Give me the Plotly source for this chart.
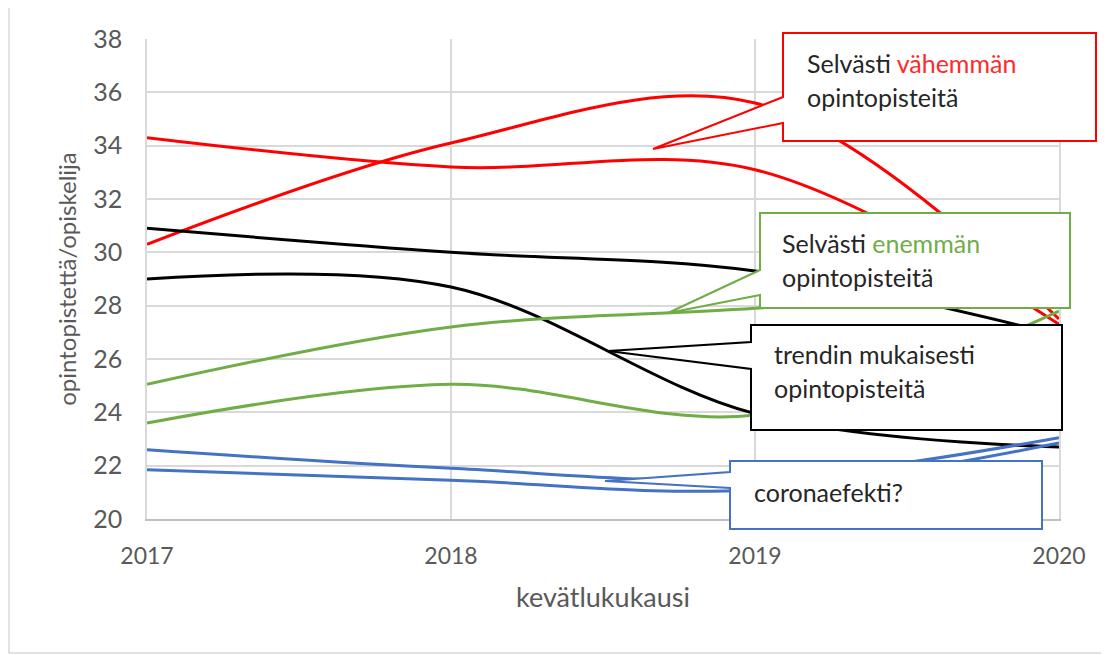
import plotly.graph_objects as go

years = [2017, 2018, 2019, 2020]
red_a = [34.3, 33.2, 33.1, 27.3]
red_b = [30.3, 34.1, 35.6, 27.5]
black_a = [30.9, 30.0, 29.3, 26.9]
black_b = [29.0, 28.7, 23.95, 22.7]
green_a = [25.05, 27.2, 27.9, 28.8]
green_b = [23.6, 25.05, 23.9, 27.8]
blue_a = [22.6, 21.9, 21.5, 23.05]
blue_b = [21.85, 21.45, 21.1, 22.85]

series = [
    (red_a, "#FF0000"), (red_b, "#FF0000"),
    (black_a, "#000000"), (black_b, "#000000"),
    (green_a, "#70AD47"), (green_b, "#70AD47"),
    (blue_a, "#4472C4"), (blue_b, "#4472C4"),
]

y_ticks = list(range(20, 40, 2))
x_title = "kevätlukukausi"
y_title = "opintopistettä/opiskelija"

FONT = "Lato"
OFF = 8  # page body margin
W, H = 1109 - OFF, 655 - OFF
# plot area in page pixels
PL, PR, PT, PB = 147, 1059, 39, 519

fig = go.Figure()
for vals, col in series:
    fig.add_trace(go.Scatter(x=years, y=vals, mode="lines",
                             line=dict(color=col, width=3, shape="spline", smoothing=1.0),
                             showlegend=False, hoverinfo="skip"))

def px(x):
    return (x - PL) / (PR - PL)

def py(y):
    return (PB - y) / (PB - PT)

def callout(x0, y0, x1, y1, b0, b1, tip, color):
    pts = [(x0, y0), (x1, y0), (x1, y1), (x0, y1), (x0, b1), tip, (x0, b0)]
    path = "M " + " L ".join(f"{px(a):.5f},{py(b):.5f}" for a, b in pts) + " Z"
    fig.add_shape(type="path", path=path, xref="paper", yref="paper",
                  line=dict(color=color, width=2), fillcolor="white", layer="above")

callout(783, 33, 1096, 141, 97, 123, (653, 149), "#FF0000")
callout(760, 213, 1070, 308, 270, 295, (668, 313), "#70AD47")
callout(751, 325, 1062, 430, 342, 369, (608, 351), "#000000")
callout(730, 461, 1042, 529, 472, 488, (605, 481), "#4472C4")

TXT = "#262626"
def label(x, y, text):
    fig.add_annotation(x=px(x), y=py(y), xref="paper", yref="paper", text=text,
                       showarrow=False, xanchor="left", yanchor="middle", align="left",
                       font=dict(family=FONT, size=25, color=TXT))

label(805, 63, "Selvästi <span style='color:#FF2A2A'>vähemmän</span>")
label(805, 97, "opintopisteitä")
label(780, 243, "Selvästi <span style='color:#70AD47'>enemmän</span>")
label(780, 277, "opintopisteitä")
label(772, 354, "trendin mukaisesti")
label(772, 388, "opintopisteitä")
label(752, 492, "coronaefekti?")

# outer chart border (left and bottom visible in the window)
fig.add_shape(type="line", xref="paper", yref="paper",
              x0=px(9), x1=px(9), y0=py(653), y1=py(OFF),
              line=dict(color="#D9D9D9", width=1.5), layer="below")
fig.add_shape(type="line", xref="paper", yref="paper",
              x0=px(9), x1=px(1115), y0=py(653), y1=py(653),
              line=dict(color="#D9D9D9", width=1.5), layer="below")

fig.update_layout(
    width=W, height=H,
    margin=dict(l=PL - OFF, r=W - (PR - OFF), t=PT - OFF, b=H - (PB - OFF)),
    paper_bgcolor="white", plot_bgcolor="white",
    font=dict(family=FONT, color="#595959"),
    xaxis=dict(range=[2017, 2020], tickvals=years, ticktext=[str(y) for y in years],
               showgrid=True, gridcolor="#D9D9D9", gridwidth=1.5, zeroline=False,
               showline=True, linecolor="#BFBFBF", linewidth=1.5,
               tickfont=dict(size=23, color="#595959"), ticks="", ticklabelstandoff=16,
               title=dict(text=x_title, font=dict(size=27, color="#595959"), standoff=20)),
    yaxis=dict(range=[20, 38], tickvals=y_ticks,
               showgrid=True, gridcolor="#D9D9D9", gridwidth=1.5, zeroline=False,
               showline=True, linecolor="#D9D9D9", linewidth=1.5, mirror=True,
               tickfont=dict(size=25, color="#595959"), ticks="", ticklabelstandoff=18,
               title=dict(text=y_title, font=dict(size=24, color="#595959"), standoff=10)),
)

fig.write_html("out.html")
